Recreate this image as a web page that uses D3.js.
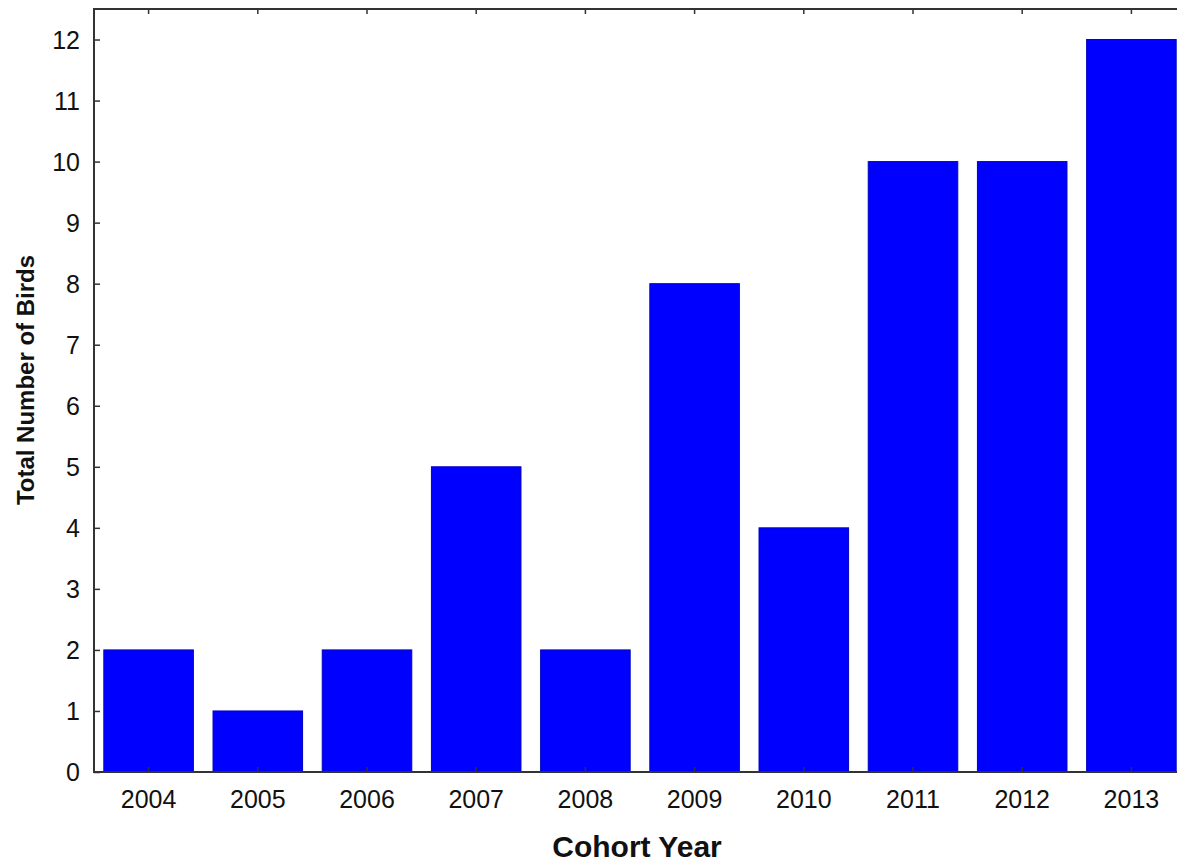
<!DOCTYPE html>
<html>

<head>
  <title>Cohort Year</title>

  <style>
    body,
    html {
      margin: 0;
      padding: 0;
      background: #fff;
    }

    text {
      font-family: Arial, "Liberation Sans", sans-serif;
      fill: #111;
    }
  </style>
</head>

<body>

  <svg id="svg" width="1177" height="862"></svg>

  <script src="https://d3js.org/d3.v7.min.js"></script>
  <script>
    const years = ["2004", "2005", "2006", "2007", "2008", "2009", "2010", "2011", "2012", "2013"]
    const birds = [2, 1, 2, 5, 2, 8, 4, 10, 10, 12]
    const yTicks = [0, 1, 2, 3, 4, 5, 6, 7, 8, 9, 10, 11, 12]

    const plotLeft = 94, plotRight = 1186, plotTop = 9, plotBottom = 772

    const svg = d3.select("#svg")

    const xScale = d3.scaleBand()
      .domain(years)
      .range([plotLeft, plotRight])
      .paddingInner(0.18)
      .paddingOuter(0.09)

    const yScale = d3.scaleLinear()
      .domain([0, 12.5])
      .range([plotBottom, plotTop])

    // bars
    svg.append("g")
      .selectAll("rect")
      .data(years)
      .join("rect")
      .attr("x", d => xScale(d))
      .attr("y", (d, i) => yScale(birds[i]))
      .attr("width", xScale.bandwidth())
      .attr("height", (d, i) => yScale(0) - yScale(birds[i]))
      .attr("fill", "#0000ff")
      .attr("stroke", "#0000c0")
      .attr("stroke-width", 1)

    // left axis, ticks inward
    const yAxis = svg.append("g")
      .attr("transform", `translate(${plotLeft},0)`)
      .call(d3.axisRight(yScale).tickValues(yTicks).tickSize(6).tickFormat(""))
    yAxis.select(".domain").remove()

    svg.append("g")
      .selectAll("text")
      .data(yTicks)
      .join("text")
      .attr("x", plotLeft - 14)
      .attr("y", d => yScale(d))
      .attr("dy", "0.36em")
      .attr("text-anchor", "end")
      .style("font-size", "25px")
      .text(d => d)

    // bottom axis
    const xAxis = svg.append("g")
      .attr("transform", `translate(0,${plotBottom})`)
      .call(d3.axisTop(xScale).tickSize(5).tickFormat(""))
    xAxis.select(".domain").remove()

    svg.append("g")
      .selectAll("text")
      .data(years)
      .join("text")
      .attr("x", d => xScale(d) + xScale.bandwidth() / 2)
      .attr("y", plotBottom + 36)
      .attr("text-anchor", "middle")
      .style("font-size", "25px")
      .text(d => d)

    // top axis, ticks inward
    const topAxis = svg.append("g")
      .attr("transform", `translate(0,${plotTop})`)
      .call(d3.axisBottom(xScale).tickSize(5).tickFormat(""))
    topAxis.select(".domain").remove()

    svg.selectAll(".tick line")
      .attr("stroke", "#333")
      .attr("stroke-width", 1.5)

    // frame lines
    svg.append("path")
      .attr("d", `M${plotRight},${plotTop}H${plotLeft}V${plotBottom}H${plotRight}`)
      .attr("fill", "none")
      .attr("stroke", "#333")
      .attr("stroke-width", 2)

    // titles
    svg.append("text")
      .attr("x", 637)
      .attr("y", 857)
      .attr("text-anchor", "middle")
      .style("font-size", "30px")
      .style("font-weight", "bold")
      .text("Cohort Year")

    svg.append("text")
      .attr("transform", "translate(34,380) rotate(-90)")
      .attr("text-anchor", "middle")
      .style("font-size", "24px")
      .style("font-weight", "bold")
      .text("Total Number of Birds")
  </script>
</body>

</html>
